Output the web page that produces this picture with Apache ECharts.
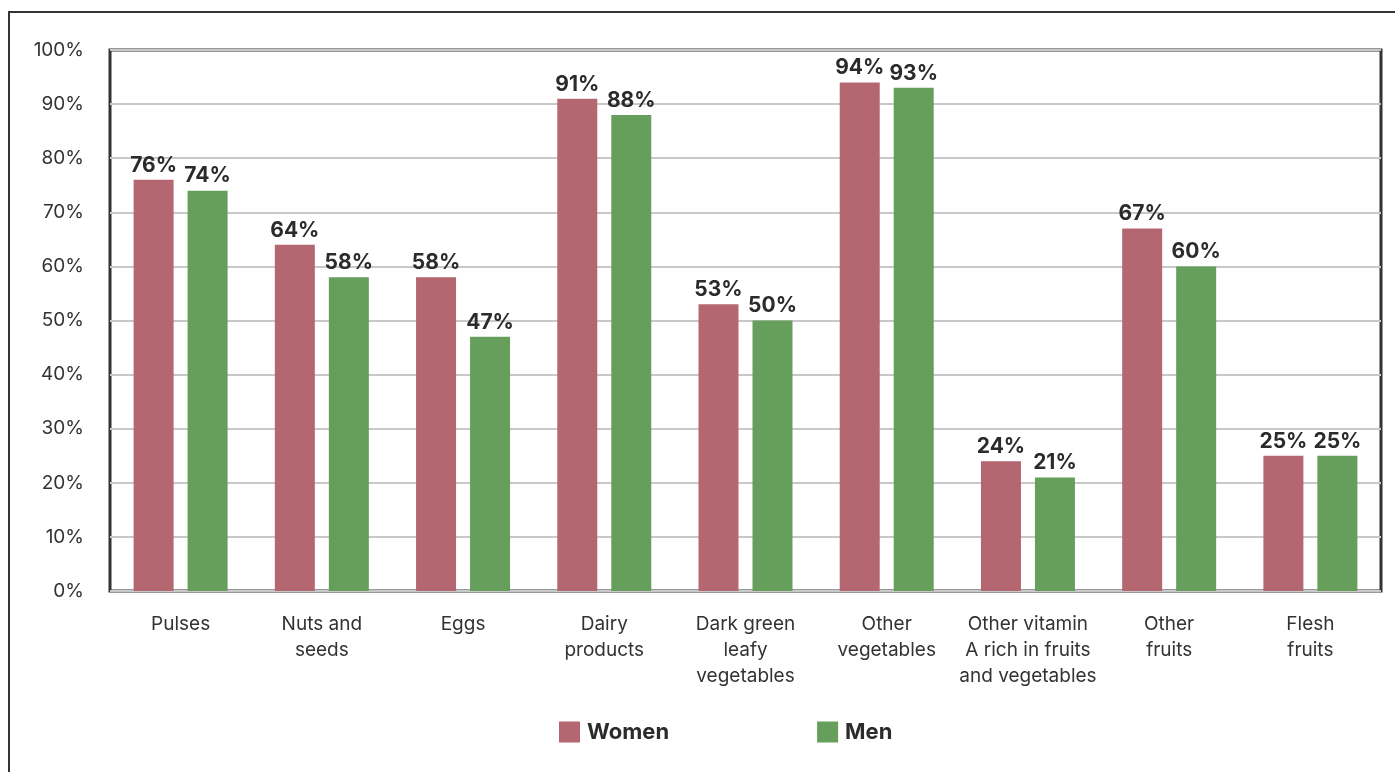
<!DOCTYPE html>
<html><head><meta charset="utf-8">
<script src="https://cdn.jsdelivr.net/npm/echarts@6/dist/echarts.min.js"></script>
<style>html,body{margin:0;padding:0;background:#fff}#c{width:1395px;height:772px}</style>
</head><body><div id="c"></div>
<script>
const categories = ["Pulses","Nuts and\nseeds","Eggs","Dairy\nproducts","Dark green\nleafy\nvegetables","Other\nvegetables","Other vitamin\nA rich in fruits\nand vegetables","Other\nfruits","Flesh\nfruits"];
const women = [76,64,58,91,53,94,24,67,25];
const men = [74,58,47,88,50,93,21,60,25];
const seriesNames = ["Women","Men"];
const colors = ["#b56771","#669e5b"];
const FONT = "Inter, Lato, sans-serif";
const chart = echarts.init(document.getElementById('c'));
const lbl = {show:true,position:'top',distance:4,formatter:'{c}%',fontFamily:FONT,fontWeight:'bold',fontSize:21,color:'#2b2b2b'};
chart.setOption({
  animation:false,
  graphic:[{type:'rect',shape:{x:9,y:12,width:1420,height:800},style:{fill:'none',stroke:'#333',lineWidth:2},z:-1}],
  grid:{left:110,top:50,right:14,bottom:181,show:true,borderColor:'#333',borderWidth:3,backgroundColor:'transparent'},
  legend:{bottom:24,left:554,itemWidth:21,itemHeight:21,itemGap:148,icon:'rect',
    textStyle:{fontFamily:FONT,fontWeight:'bold',fontSize:22,color:'#2b2b2b',padding:[0,0,0,2]},data:seriesNames},
  xAxis:{type:'category',data:categories,axisTick:{show:false},axisLine:{show:false},
    axisLabel:{fontFamily:FONT,fontSize:19,color:'#333',lineHeight:26,margin:20,interval:0}},
  yAxis:{type:'value',min:0,max:100,interval:10,axisLine:{show:false},axisTick:{show:false},
    splitLine:{lineStyle:{color:'#c8c8c8',width:2}},
    axisLabel:{formatter:'{value}%',fontFamily:FONT,fontSize:19,color:'#333',margin:26}},
  series:[
    {name:seriesNames[0],type:'bar',data:women,barWidth:40,barGap:'35%',itemStyle:{color:colors[0]},label:lbl},
    {name:seriesNames[1],type:'bar',data:men,barWidth:40,itemStyle:{color:colors[1]},label:lbl}
  ]
});
</script></body></html>
